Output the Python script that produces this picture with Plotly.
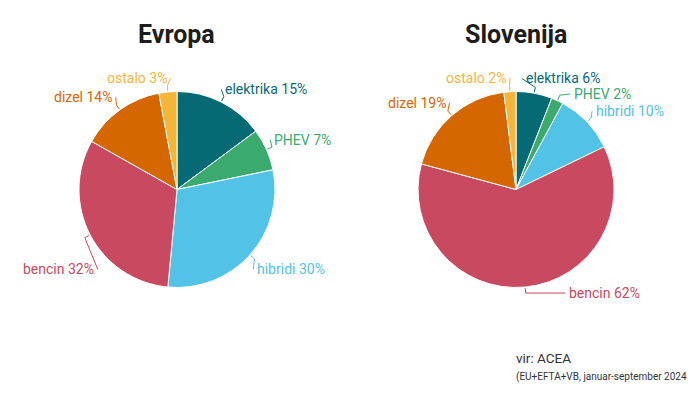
import math
import plotly.graph_objects as go

# ---- data ----
categories = ["elektrika", "PHEV", "hibridi", "bencin", "dizel", "ostalo"]
evropa_values = [15, 7, 30, 32, 14, 3]
slovenija_values = [6, 2, 10, 62, 19, 2]
chart_titles = ["Evropa", "Slovenija"]
source_line = "vir: ACEA"
note_line = "(EU+EFTA+VB, januar-september 2024"

# ---- style / layout ----
slice_colors = ["#066a75", "#3aaa6e", "#52c2e6", "#c94a60", "#d46700", "#f3b63a"]
W, H = 700, 394
R = 98
centers = [(177, 189.5), (516, 189.5)]
LBL = 14  # label distance beyond the rim
# per-label nudges (dx, dy) in px, layout only
nudges = [
    {0: (-5, 0), 1: (-8, -4), 2: (-6, 5), 3: (19, 28), 4: (3, -1), 5: (3, 0)},
    {0: (-14, -1), 1: (8, 6), 2: (-4, -1), 3: (40, -8), 4: (6, -2)},
]
FONT = "Roboto, 'Noto Sans', Arial, sans-serif"

def px(x):
    return x / W

def py(y):
    return 1 - y / H

fig = go.Figure()
annotations = []
shapes = []

for ci, values in enumerate([evropa_values, slovenija_values]):
    cx, cy = centers[ci]
    fig.add_trace(go.Pie(
        labels=categories, values=values, sort=False, direction="clockwise",
        rotation=0, textinfo="none", hoverinfo="label+percent",
        marker=dict(colors=slice_colors, line=dict(color="white", width=1)),
        domain=dict(x=[px(cx - R), px(cx + R)], y=[py(cy + R), py(cy - R)]),
        showlegend=False,
    ))
    annotations.append(dict(
        x=px(cx), y=py(35), xref="paper", yref="paper", showarrow=False,
        text="<b>%s</b>" % chart_titles[ci],
        font=dict(family=FONT, size=25, color="#1d1d1d"),
        xanchor="center", yanchor="middle",
    ))
    total = float(sum(values))
    cum = 0.0
    for i, v in enumerate(values):
        mid = (cum + v / 2) / total * 2 * math.pi
        cum += v
        sx, sy = math.sin(mid), -math.cos(mid)
        x0, y0 = cx + (R + 1) * sx, cy + (R + 1) * sy
        x1, y1 = cx + (R + 6) * sx, cy + (R + 6) * sy
        ax, ay = cx + (R + LBL) * sx, cy + (R + LBL) * sy
        dx, dy = nudges[ci].get(i, (0, 0))
        ax += dx
        ay += dy
        right = ax >= cx if i != 3 or ci != 1 else True
        ex = ax - 1 if right else ax + 1
        shapes.append(dict(
            type="path", xref="paper", yref="paper",
            path="M %f,%f L %f,%f L %f,%f" % (px(x0), py(y0), px(x1), py(y1), px(ex), py(ay)),
            line=dict(color=slice_colors[i], width=1),
        ))
        annotations.append(dict(
            x=px(ax + (1 if right else -1)), y=py(ay), xref="paper", yref="paper",
            showarrow=False, text="%s %d%%" % (categories[i], v),
            font=dict(family=FONT, size=14, color=slice_colors[i]),
            xanchor="left" if right else "right", yanchor="middle",
        ))

annotations.append(dict(
    x=px(514), y=py(358), xref="paper", yref="paper", showarrow=False,
    text=source_line, font=dict(family=FONT, size=13.5, color="#333333"),
    xanchor="left", yanchor="middle",
))
annotations.append(dict(
    x=px(514), y=py(377), xref="paper", yref="paper", showarrow=False,
    text=note_line, font=dict(family=FONT, size=10, color="#333333"),
    xanchor="left", yanchor="middle",
))

fig.update_layout(
    width=W, height=H, margin=dict(l=0, r=0, t=0, b=0),
    paper_bgcolor="white", plot_bgcolor="white",
    annotations=annotations, shapes=shapes, showlegend=False,
)
fig.write_html("out.html", config={"displayModeBar": False},
               post_script="document.body.style.margin='0';")
